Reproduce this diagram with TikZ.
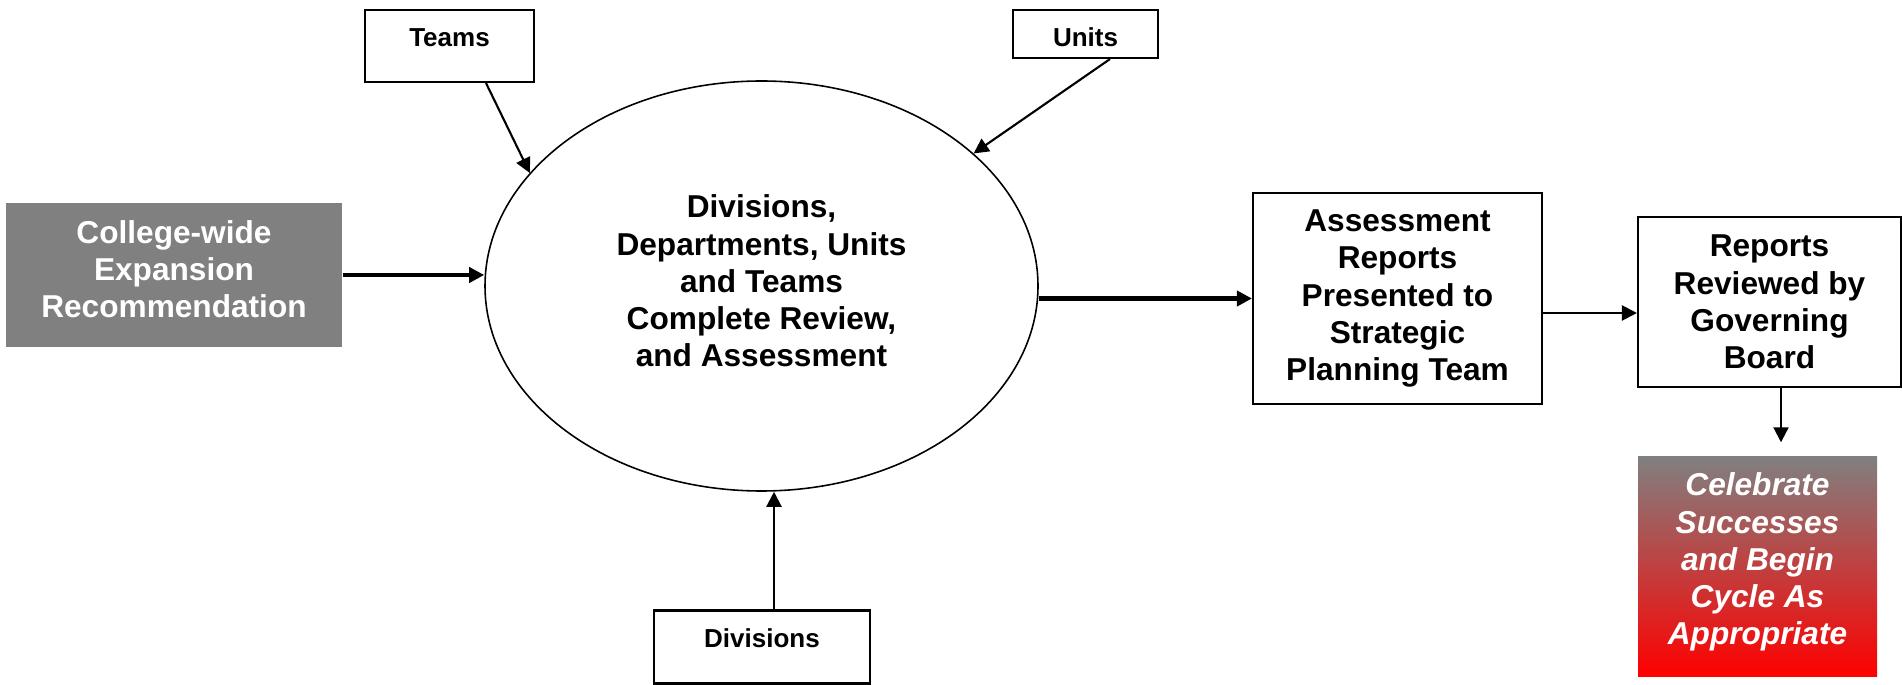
\documentclass[tikz,border=0pt]{standalone}
\usepackage{fontspec}
\setmainfont{Liberation Sans}
\usepackage{tikz}
\usetikzlibrary{shapes,shapes.geometric,arrows,arrows.meta,positioning}
\definecolor{boxgrey}{RGB}{128,128,128}

\begin{document}
\begin{tikzpicture}[every node/.style={align=center, font=\fontsize{9}{10.6}\selectfont\bfseries},
    box/.style={draw, line width=0.6pt},
    smallbox/.style={draw, line width=0.6pt, inner ysep=0pt, text height=3.7mm, font=\fontsize{7.4}{9}\selectfont\bfseries},
    arr/.style={line width=0.6pt, -{Triangle[length=1.5mm,width=1.5mm]}},
    bigarr/.style={line width=1.3pt, -{Triangle[length=1.5mm,width=1.5mm]}}]
    \useasboundingbox (0,0) rectangle (19.02,6.84);
    % main flow
    \node[fill=boxgrey, text=white, minimum width=3.36cm, minimum height=1.44cm, text depth=1.2mm] (col) at (1.74,4.09) {College-wide\\Expansion\\Recommendation};
    \node[draw, ellipse, line width=0.45pt, minimum width=5.53cm, minimum height=4.10cm, inner sep=0pt, text depth=1mm] (sys) at (7.615,3.98) {Divisions,\\Departments, Units\\and Teams\\Complete Review,\\and Assessment};
    \node[box, minimum width=2.89cm, minimum height=2.11cm] (assess) at (13.975,3.855) {Assessment\\Reports\\Presented to\\Strategic\\Planning Team};
    \node[box, minimum width=2.63cm, minimum height=1.70cm] (board) at (17.695,3.82) {Reports\\Reviewed by\\Governing\\Board};
    \node[top color=boxgrey, bottom color=red, text=white, minimum width=2.39cm, minimum height=2.19cm, text depth=1.5mm, font=\fontsize{9}{10.6}\selectfont\bfseries\itshape] (celeb) at (17.575,1.175) {Celebrate\\Successes\\and Begin\\Cycle As\\Appropriate};
    % inputs
    \node[smallbox, minimum width=1.69cm, text depth=3.5mm] (teams) at (4.495,6.38) {Teams};
    \node[smallbox, minimum width=1.45cm, text depth=1.1mm] (units) at (10.855,6.50) {Units};
    \node[smallbox, minimum width=2.16cm, text depth=3.6mm] (div) at (7.62,0.37) {Divisions};

    \draw[bigarr] (col.east) -- (col.east -| sys.west);
    \draw[bigarr] (sys.east |- assess.west) -- (assess.west);
    \draw[arr] ([yshift=-1.45mm]assess.east) -- ([yshift=-1.45mm]assess.east -| board.west);
    \draw[arr, shorten >=1.4mm] ([xshift=1.15mm]board.south) -- ([xshift=1.15mm]board.south |- celeb.north);
    \draw[arr] ([xshift=3.65mm]teams.south) -- (sys.154);
    \draw[arr] ([xshift=2.45mm]units.south) -- (sys.32);
    \draw[arr] ([xshift=1.2mm]div.north) -- ([xshift=1.2mm]div.north |- sys.south);
\end{tikzpicture}
\end{document}
